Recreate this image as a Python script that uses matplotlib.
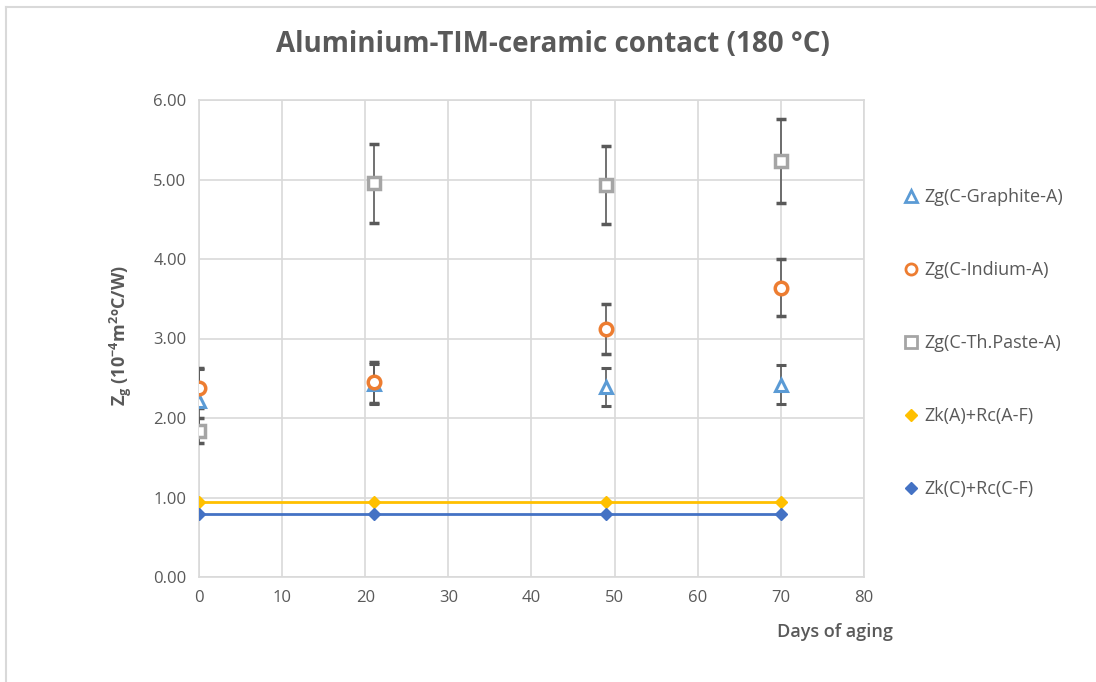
import numpy as np
import matplotlib
matplotlib.use('Agg')
import matplotlib.pyplot as plt
from matplotlib.lines import Line2D

plt.rcParams['font.family'] = ['Open Sans', 'DejaVu Sans']
plt.rcParams['mathtext.fontset'] = 'custom'
plt.rcParams['mathtext.rm'] = 'Open Sans:bold'
plt.rcParams['mathtext.it'] = 'Open Sans:bold'
plt.rcParams['mathtext.default'] = 'rm'

# Data
days = [0, 21, 49, 70]

graphite = [2.22, 2.43, 2.39, 2.42]
graphite_err = [0.40, 0.25, 0.24, 0.25]

indium = [2.38, 2.45, 3.12, 3.64]
indium_err = [0.25, 0.26, 0.31, 0.36]

paste = [1.84, 4.95, 4.93, 5.23]
paste_err = [0.16, 0.50, 0.49, 0.53]

zk_a = [0.94, 0.94, 0.94, 0.94]
zk_c = [0.79, 0.79, 0.79, 0.79]

labels = ['Zg(C-Graphite-A)', 'Zg(C-Indium-A)', 'Zg(C-Th.Paste-A)',
          'Zk(A)+Rc(A-F)', 'Zk(C)+Rc(C-F)']

txt = '#595959'
err_col = '#595959'

fig = plt.figure(figsize=(10.96, 6.82), dpi=100)
ax = fig.add_axes([199/1096, 1 - 577/682, (864-199)/1096, (577-100)/682])

# chart frame (left and top edges visible)
fig.add_artist(Line2D([6/1096, 6/1096], [0, 1 - 7/682], color='#d9d9d9', lw=1.5))
fig.add_artist(Line2D([6/1096, 1], [1 - 7/682, 1 - 7/682], color='#d9d9d9', lw=1.5))

ax.plot(days, zk_a, color='#FFC000', lw=2, marker='D', ms=6, zorder=3)
ax.plot(days, zk_c, color='#4472C4', lw=2, marker='D', ms=6, zorder=3)

ek = dict(ecolor=err_col, elinewidth=1.2, capsize=3.5, capthick=1.2, ls='none', zorder=4)
ax.errorbar(days, graphite, yerr=graphite_err, fmt='^', ms=8, mfc='white',
            mec='#5B9BD5', mew=2.2, **ek)
ax.errorbar(days, paste, yerr=paste_err, fmt='s', ms=9, mfc='white',
            mec='#A5A5A5', mew=2.5, **ek)
ax.errorbar(days, indium, yerr=indium_err, fmt='o', ms=9, mfc='white',
            mec='#ED7D31', mew=2.5, **ek)

ax.set_xlim(0, 80)
ax.set_ylim(0, 6)
ax.set_xticks(np.arange(0, 81, 10))
ax.set_yticks(np.arange(0, 6.01, 1))
ax.set_yticklabels([f'{v:.2f}' for v in np.arange(0, 6.01, 1)])
ax.grid(True, color='#d9d9d9', lw=1.2)
ax.set_axisbelow(True)
for s in ax.spines.values():
    s.set_color('#d9d9d9')
    s.set_linewidth(1.2)
ax.tick_params(length=0, labelsize=12, colors=txt, pad=9)

fig.text(553/1096, 1 - 45/682, 'Aluminium-TIM-ceramic contact (180 °C)',
         ha='center', va='center', fontsize=20, fontweight='bold', color=txt)
fig.text(121/1096, 1 - 336/682, r'Z$_g$ (10$^{-4}$m$^2$ºC/W)', rotation=90,
         ha='center', va='center', fontsize=13, fontweight='bold', color=txt)
fig.text(835/1096, 1 - 632/682, 'Days of aging', ha='center', va='center',
         fontsize=13, fontweight='semibold', color=txt)

handles = [
    Line2D([], [], ls='none', marker='^', ms=8, mfc='white', mec='#5B9BD5', mew=2),
    Line2D([], [], ls='none', marker='o', ms=8, mfc='white', mec='#ED7D31', mew=2),
    Line2D([], [], ls='none', marker='s', ms=8, mfc='white', mec='#A5A5A5', mew=2),
    Line2D([], [], ls='none', marker='D', ms=6, color='#FFC000'),
    Line2D([], [], ls='none', marker='D', ms=6, color='#4472C4'),
]
leg = fig.legend(handles, labels, loc='upper left', bbox_to_anchor=(895/1096, 1 - 179/682),
                 frameon=False, labelspacing=3.05, handlelength=0.8, handletextpad=0.3,
                 fontsize=13, borderpad=0)
for t in leg.get_texts():
    t.set_color(txt)

fig.savefig('out.png', dpi=100)
